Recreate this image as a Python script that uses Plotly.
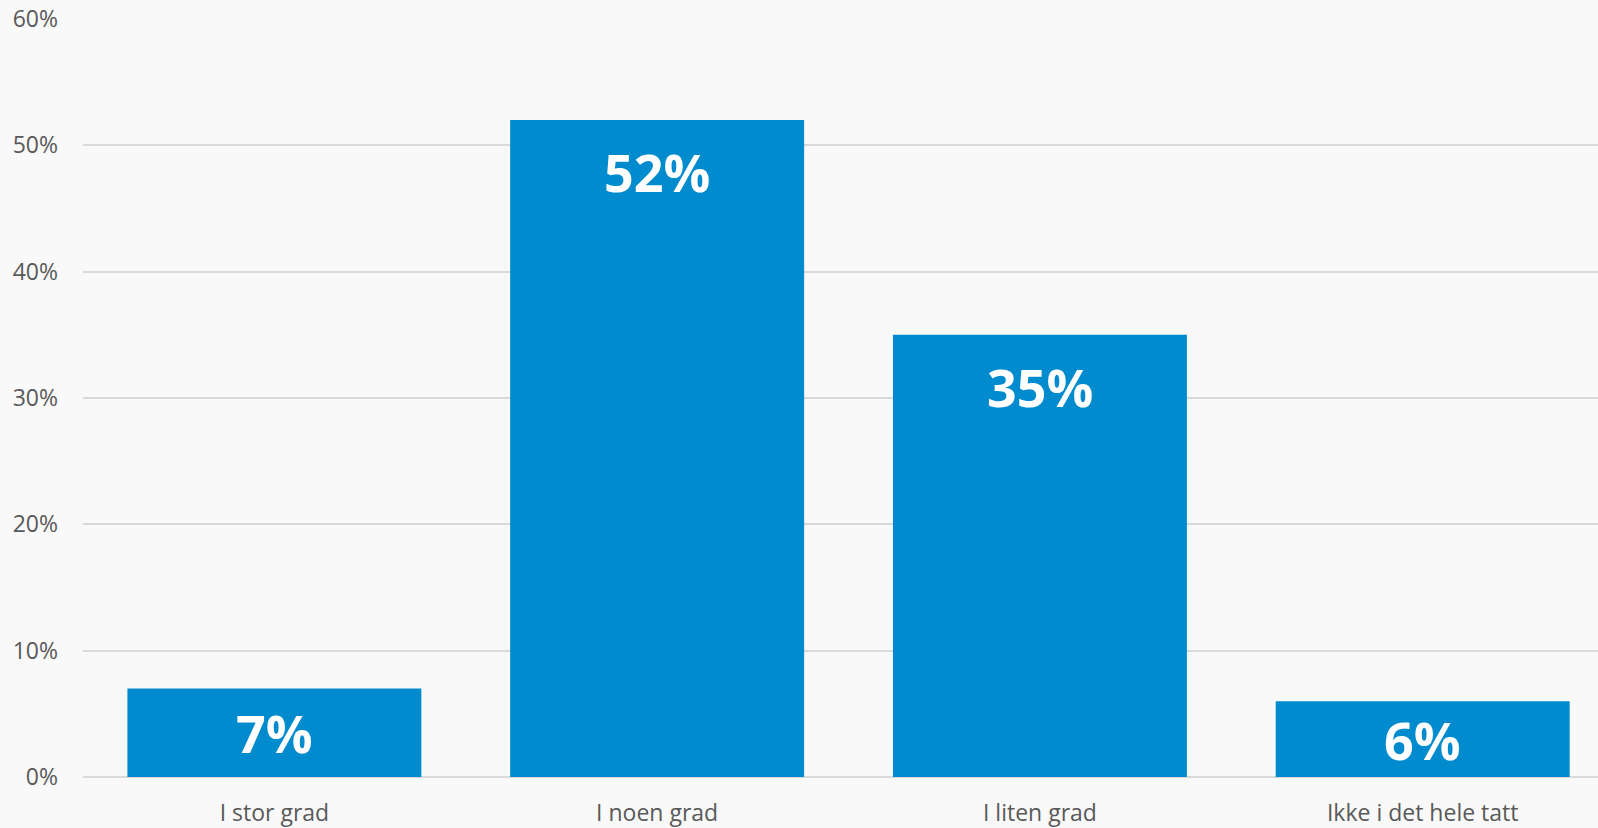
import plotly.graph_objects as go

categories = ["I stor grad", "I noen grad", "I liten grad", "Ikke i det hele tatt"]
values = [7, 52, 35, 6]
y_ticks = [0, 10, 20, 30, 40, 50, 60]
y_tick_labels = [f"{t}%" for t in y_ticks]

BAR_COLOR = "#008bce"
BG = "#f9f9f9"
GRID = "#d9d9d9"
FONT = "Open Sans, Noto Sans, sans-serif"
TICK_COLOR = "#595959"

fig = go.Figure(
    go.Bar(
        x=list(range(len(categories))),
        y=values,
        marker=dict(color=BAR_COLOR, line=dict(width=0)),
        hoverinfo="skip",
    )
)

# value labels inside the bars: near the top for tall bars, centred for short ones
for i, v in enumerate(values):
    y_label = max(v - 4.1, v / 2)
    fig.add_annotation(
        x=i, y=y_label, text=f"<b>{v}%</b>", showarrow=False,
        xanchor="center", yanchor="middle",
        font=dict(family=FONT, size=52, color="white"),
    )

fig.update_layout(
    width=1598,
    height=828,
    margin=dict(l=83, r=0, t=19, b=51),
    paper_bgcolor=BG,
    plot_bgcolor=BG,
    bargap=0.232,
    showlegend=False,
    font=dict(family=FONT, size=23, color=TICK_COLOR),
)

fig.update_xaxes(
    tickmode="array",
    tickvals=list(range(len(categories))),
    ticktext=categories,
    range=[-0.5, 3.458],
    showgrid=False,
    zeroline=False,
    showline=False,
    ticks="",
    ticklabelstandoff=20,
    tickfont=dict(family=FONT, size=23, color=TICK_COLOR),
)

fig.update_yaxes(
    range=[0, 60],
    tickmode="array",
    tickvals=y_ticks,
    ticktext=y_tick_labels,
    showgrid=True,
    gridcolor=GRID,
    gridwidth=1.5,
    zeroline=True,
    zerolinecolor=GRID,
    zerolinewidth=1.5,
    showline=False,
    ticks="",
    ticklabelstandoff=24,
    tickfont=dict(family=FONT, size=23, color=TICK_COLOR),
)

fig.write_html("out.html")
